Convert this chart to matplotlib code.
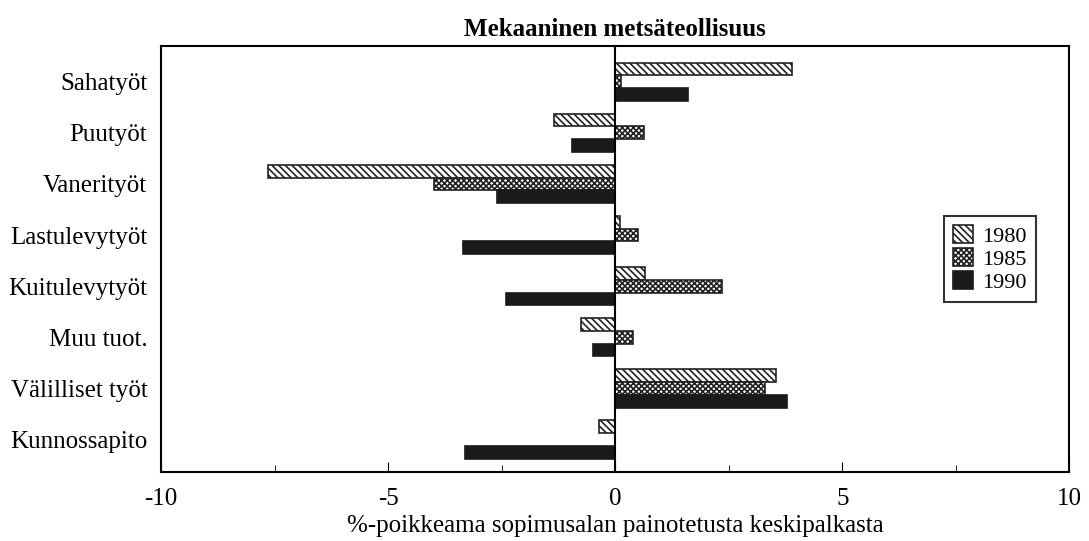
import matplotlib.pyplot as plt
import numpy as np

categories = ["Sahatyöt", "Puutyöt", "Vanerityöt", "Lastulevytyöt",
              "Kuitulevytyöt", "Muu tuot.", "Välilliset työt", "Kunnossapito"]
years = ["1980", "1985", "1990"]
v1980 = [3.9, -1.35, -7.65, 0.1, 0.65, -0.75, 3.55, -0.35]
v1985 = [0.12, 0.64, -4.0, 0.5, 2.35, 0.4, 3.3, 0.0]
v1990 = [1.6, -0.95, -2.6, -3.35, -2.4, -0.5, 3.78, -3.3]
xticks = [-10, -5, 0, 5, 10]


def main():
	plt.rcParams['font.family'] = ['Liberation Serif', 'DejaVu Serif']
	plt.rcParams['hatch.linewidth'] = 1.2

	fig = plt.figure(figsize=(10.89, 5.41), dpi=100)
	ax = fig.add_axes([0.148, 0.128, 0.834, 0.787])

	y = np.arange(len(categories))
	h = 0.25
	styles = [dict(color='white', hatch='\\\\\\\\\\', edgecolor='#222'),
	          dict(color='white', hatch='xxxxxx', edgecolor='#222'),
	          dict(color='#1a1a1a', edgecolor='#1a1a1a')]
	for k, vals in enumerate([v1980, v1985, v1990]):
		ax.barh(y + (k - 1) * h, vals, height=h, linewidth=1.2,
		        label=years[k], **styles[k])

	ax.axvline(0, color='black', lw=1.5)
	ax.set_xlim(-10, 10)
	ax.set_ylim(len(categories) - 1 + 0.63, -0.7)
	ax.set_yticks(y)
	ax.set_yticklabels(categories, fontsize=18)
	ax.tick_params(axis='y', length=0, pad=10)
	ax.set_xticks(xticks, [str(t) for t in xticks])
	ax.set_xticks([-7.5, -2.5, 2.5, 7.5], minor=True)
	ax.tick_params(axis='x', which='both', direction='in', labelsize=18, pad=12)
	ax.tick_params(axis='x', which='major', length=7)
	ax.tick_params(axis='x', which='minor', length=5)
	for s in ax.spines.values():
		s.set_linewidth(1.5)

	ax.set_xlabel("%-poikkeama sopimusalan painotetusta keskipalkasta",
	              fontsize=18, labelpad=3)
	ax.set_title("Mekaaninen metsäteollisuus", fontsize=18,
	             fontweight='bold', pad=7)

	leg = ax.legend(loc='center right', bbox_to_anchor=(0.975, 0.5),
	                fontsize=16, frameon=True, fancybox=False,
	                handlelength=0.9, handleheight=0.9, handletextpad=0.4,
	                labelspacing=0.05, borderpad=0.4)
	leg.get_frame().set_edgecolor('black')
	leg.get_frame().set_linewidth(1.5)

	fig.savefig("out.png", dpi=100)


if __name__ == '__main__':
	main()
